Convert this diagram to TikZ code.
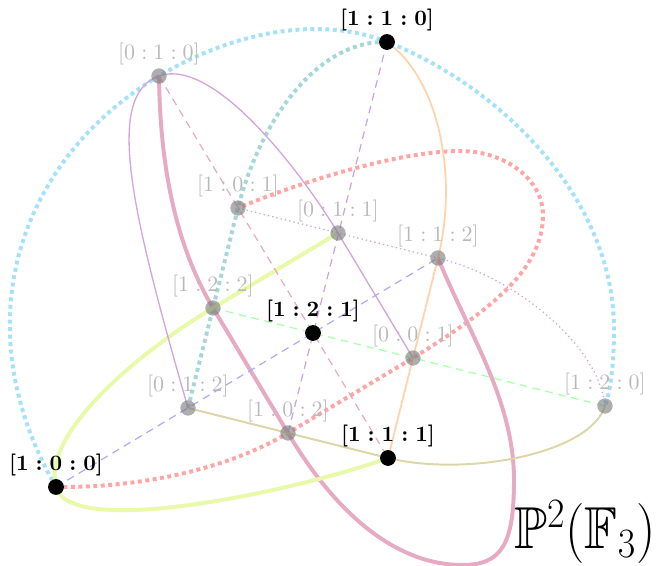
\documentclass[tikz,border=0pt]{standalone}
\usepackage{amsfonts,amsmath,amssymb}
\usepackage{tikz}
\definecolor{ptgray}{RGB}{120,120,120}
\definecolor{lblgray}{RGB}{185,185,185}
\definecolor{skyln}{RGB}{165,225,248}
\definecolor{tealln}{RGB}{165,215,215}
\definecolor{redln}{RGB}{255,165,165}
\definecolor{roseln}{RGB}{230,170,195}
\definecolor{limeln}{RGB}{232,250,170}
\definecolor{oliveln}{RGB}{220,215,170}
\definecolor{orangeln}{RGB}{255,210,170}
\definecolor{purpleln}{RGB}{210,165,220}
\definecolor{blueln}{RGB}{170,170,255}
\definecolor{greenln}{RGB}{170,255,170}
\definecolor{violetln}{RGB}{205,160,225}
\tikzset{
  every picture/.style={line join=round},
  pt/.style={circle,fill=ptgray,fill opacity=0.6,inner sep=0pt,minimum size=7pt},
  mainpt/.style={circle,fill=black,inner sep=0pt,minimum size=7.2pt},
  ptlbl/.style={text=lblgray,inner sep=1pt},
  mainlbl/.style={text=black,inner sep=1pt,font=\boldmath},
  bigdots/.style={line width=1.8pt,dash pattern=on 1.8pt off 1.6pt},
  smalldots/.style={line width=0.6pt,dash pattern=on 0.6pt off 1.4pt},
  dashes/.style={line width=0.55pt,dash pattern=on 3.5pt off 2.5pt},
  fat/.style={line width=1.8pt},
  fine/.style={line width=0.6pt},
}

\begin{document}
\begin{tikzpicture}[x=0.016cm,y=-0.016cm]
\useasboundingbox (0,0) rectangle (656,566);
\coordinate (p110) at (387,42);
\coordinate (p010) at (159,76);
\coordinate (p101) at (238,208);
\coordinate (p011) at (338,233);
\coordinate (p112) at (438,258);
\coordinate (p122) at (213,308);
\coordinate (p121) at (313,333);
\coordinate (p001) at (413,358);
\coordinate (p120) at (605,406);
\coordinate (p012) at (188,408);
\coordinate (p102) at (288,433);
\coordinate (p111) at (388,458);
\coordinate (p100) at (56,487);

\draw[bigdots,skyln] (p100) .. controls (-39,322) and (21,158) .. (p010)
  .. controls (236,30) and (322,16) .. (p110)
  .. controls (489,81) and (614,190) .. (614,330)
  .. controls (614,360) and (611,390) .. (p120);
\draw[bigdots,tealln] (p012) -- (p101) .. controls (260,121) and (317,40) .. (p110);
\draw[bigdots,redln] (p100) .. controls (140,488) and (228,469) .. (p102) -- (p001)
  .. controls (490,310) and (543,270) .. (543,215)
  .. controls (543,180) and (506,151) .. (460,151)
  .. controls (400,151) and (303,181) .. (p101);
\draw[fat,roseln] (p010) .. controls (160,156) and (172,239) .. (p122) -- (p102)
  .. controls (339,519) and (400,565) .. (462,565)
  .. controls (502,565) and (514,544) .. (514,480)
  .. controls (514,400) and (468,332) .. (p112);
\draw[fat,limeln] (p011) -- (p122) .. controls (136,354) and (42,434) .. (p100)
  .. controls (70,540) and (300,490) .. (p111);
\draw[line width=0.9pt,oliveln] (p012) -- (p111) .. controls (466,477) and (590,454) .. (p120);
\draw[smalldots,purpleln] (p101) -- (p112) .. controls (516,277) and (599,346) .. (p120);
\draw[line width=0.8pt,orangeln] (p111) -- (p112) .. controls (458,178) and (440,80) .. (p110);
\draw[fine,purpleln] (p012) .. controls (133,216) and (103,96) .. (p010)
  .. controls (215,56) and (305,178) .. (p011) -- (p001);
\draw[dashes,blueln] (p100) -- (p112);
\draw[dashes,greenln] (p122) -- (p120);
\draw[dashes,roseln] (p010) -- (p111);
\draw[dashes,violetln] (p110) -- (p102);

\node[pt,label={[ptlbl]above:$[0:1:0]$}] (d010) at (p010) {};
\node[pt,label={[ptlbl]above:$[1:0:1]$}] (d101) at (p101) {};
\node[pt,label={[ptlbl]above:$[0:1:1]$}] (d011) at (p011) {};
\node[pt,label={[ptlbl]above:$[1:1:2]$}] (d112) at (p112) {};
\node[pt,label={[ptlbl]above:$[1:2:2]$}] (d122) at (p122) {};
\node[pt,label={[ptlbl]above:$[0:0:1]$}] (d001) at (p001) {};
\node[pt,label={[ptlbl]above:$[1:2:0]$}] (d120) at (p120) {};
\node[pt,label={[ptlbl]above:$[0:1:2]$}] (d012) at (p012) {};
\node[pt,label={[ptlbl]above:$[1:0:2]$}] (d102) at (p102) {};
\node[mainpt,label={[mainlbl]above:$[1:1:0]$}] (d110) at (p110) {};
\node[mainpt,label={[mainlbl]above:$[1:2:1]$}] (d121) at (p121) {};
\node[mainpt,label={[mainlbl]above:$[1:1:1]$}] (d111) at (p111) {};
\node[mainpt,label={[mainlbl]above:$[1:0:0]$}] (d100) at (p100) {};

\node[inner sep=0pt,font=\fontsize{24.5}{29}\selectfont] (plane) at (585,532)
  {\scalebox{1}[1.1]{$\mathbb{P}^2(\mathbb{F}_3)$}};
\end{tikzpicture}
\end{document}
